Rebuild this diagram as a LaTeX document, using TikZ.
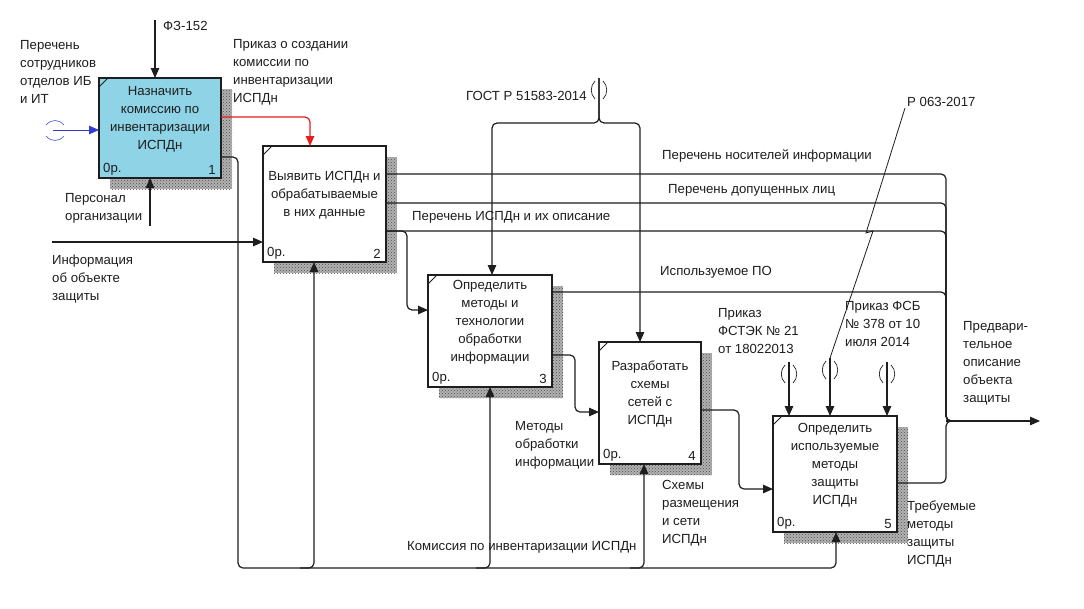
\documentclass[tikz,border=0pt]{standalone}
\usepackage{fontspec}
\setmainfont{Liberation Sans}
\usetikzlibrary{arrows.meta,patterns}

\definecolor{actblue}{RGB}{142,212,230}
\definecolor{ink}{RGB}{30,30,30}
\definecolor{inblue}{RGB}{50,60,210}
\definecolor{ctlred}{RGB}{228,30,30}

% IDEF0 activity box: name, x1, y1, x2, y2, fill, caption, number
\newcommand\actbox[8]{%
  \fill[black!30] (#2+11,#3+11) rectangle (#4+11,#5+11);
  \fill[pattern=crosshatch dots, pattern color=black!70] (#2+11,#3+11) rectangle (#4+11,#5+11);
  \node[actframe, fill=#6, minimum width={#4-#2}, minimum height={#5-#3}, anchor=north west] (#1) at (#2,#3) {};
  \draw[line width=0.9pt, ink] (#2,#3+9) -- (#2+9,#3);
  \node[lbl, align=center] (#1cap) at ({(#2+#4)/2},{(#3+#5)/2-9}) {#7};
  \node[lbl, anchor=south west] (#1cost) at (#2+4,#5-3) {0р.};
  \node[lbl, anchor=south east] (#1num) at (#4-5,#5-3) {#8};
}

% tunnel brackets around a vertical arrow at x, centred at y
\newcommand\vtunnel[2]{%
  \draw[line width=0.7pt, ink] (#1-4,#2-9) .. controls (#1-9,#2-4) and (#1-9,#2+4) .. (#1-4,#2+9);
  \draw[line width=0.7pt, ink] (#1+4,#2-9) .. controls (#1+9,#2-4) and (#1+9,#2+4) .. (#1+4,#2+9);
}

\begin{document}
\begin{tikzpicture}[x=1pt,y=-1pt,
  lbl/.style={font=\fontsize{13.2}{18}\selectfont, text=ink, inner sep=0pt},
  txt/.style={lbl, align=left, anchor=north west},
  actframe/.style={draw=ink, line width=1.8pt, outer sep=0pt, inner sep=0pt},
  conn/.style={draw=ink, line width=1.2pt, rounded corners=5pt},
  arr/.style={conn, -{Triangle[length=10pt,width=8.5pt]}},
]
\useasboundingbox[fill=white] (0,0) rectangle (1084,608);

% activities
\actbox{b1}{99}{78}{221}{178}{actblue}{Назначить\\комиссию по\\инвентаризации\\ИСПДн}{1}
\actbox{b2}{263}{146}{386}{262}{white}{Выявить ИСПДн и\\обрабатываемые\\в них данные}{2}
\actbox{b3}{428}{275}{552}{387}{white}{Определить\\методы и\\технологии\\обработки\\информации}{3}
\actbox{b4}{599}{342}{701}{464}{white}{Разработать\\схемы\\сетей с\\ИСПДн}{4}
\actbox{b5}{773}{416}{897}{532}{white}{Определить\\используемые\\методы\\защиты\\ИСПДн}{5}

% free arrow ends
\coordinate (fz) at (155,20);
\coordinate (staff) at (53,130);
\coordinate (pers) at (150,226);
\coordinate (info) at (52,242);
\coordinate (gost) at (599,78);
\coordinate (fork) at (599,123);
\coordinate (join) at (946,421);
\coordinate (result) at (1040,421);
\coordinate (ctlA) at (789,362);
\coordinate (ctlB) at (830,358);
\coordinate (ctlC) at (887,362);
\coordinate (rtag) at (905,108);

% box 1
\draw[arr] (fz) -- (fz |- b1.north);
\draw[arr] (pers) -- (pers |- b1.south);
\draw[arr, draw=inblue, line width=1pt] (staff) -- (staff -| b1.west);
\draw[inblue!80, line width=0.7pt] (46,125) .. controls (51,119) and (59,119) .. (64,125);
\draw[inblue!80, line width=0.7pt] (46,136) .. controls (51,142) and (59,142) .. (64,136);
\draw[arr, draw=ctlred] (b1.east |- 0,117) -- (310,117) -- (310,0 |- b2.north);

% mechanism bus: commission
\draw[arr] (b1.east |- 0,157) -- (238,157) -- (238,568) -- (836,568) -- (836,0 |- b5.south);
\draw[arr] (300,568) -- (314,568) -- (314,0 |- b2.south);
\draw[arr] (476,568) -- (490,568) -- (490,0 |- b3.south);
\draw[arr] (630,568) -- (644,568) -- (644,0 |- b4.south);

% box 2
\draw[arr] (info) -- (info -| b2.west);
\draw[conn] (b2.east |- 0,174) -- (946,174) -- (join) -- (960,421);
\draw[conn] (b2.east |- 0,203) -- (946,203) -- (join) -- (960,421);
\draw[conn] (b2.east |- 0,231) -- (946,231) -- (join) -- (960,421);
\draw[arr] (b2.east |- 0,231) -- (407,231) -- (407,310) -- (b3.west |- 0,310);

% GOST control, split to boxes 3 and 4
\draw[arr] (gost) -- (fork) -- (492,123) -- (492,0 |- b3.north);
\draw[arr] (gost) -- (fork) -- (640,123) -- (640,0 |- b4.north);
\vtunnel{599}{90}

% box 3
\draw[conn] (b3.east |- 0,292) -- (946,292) -- (join) -- (960,421);
\draw[arr] (b3.east |- 0,355) -- (575,355) -- (575,412) -- (b4.west |- 0,412);

% box 4
\draw[arr] (b4.east |- 0,410) -- (739,410) -- (739,489) -- (b5.west |- 0,489);

% box 5
\draw[conn] (b5.east |- 0,483) -- (946,483) -- (join) -- (960,421);
\draw[arr, rounded corners=0pt] (join) -- (result);
\draw[arr] (ctlA) -- (ctlA |- b5.north);
\draw[arr] (ctlB) -- (ctlB |- b5.north);
\draw[arr] (ctlC) -- (ctlC |- b5.north);
\vtunnel{789}{374}
\vtunnel{830}{370}
\vtunnel{887}{374}
\draw[line width=0.8pt, ink] (rtag) -- (866,233) -- (873,231) -- (ctlB);

% labels
\node[txt] at (163,21) {ФЗ-152};
\node[txt] at (20,40) {Перечень\\сотрудников\\отделов ИБ\\и ИТ};
\node[txt] at (233,39) {Приказ о создании\\комиссии по\\инвентаризации\\ИСПДн};
\node[txt] at (65,193) {Персонал\\организации};
\node[txt] at (52,255) {Информация\\об объекте\\защиты};
\node[txt] at (466,91) {ГОСТ Р 51583-2014};
\node[txt] at (662,150) {Перечень носителей информации};
\node[txt] at (668,184) {Перечень допущенных лиц};
\node[txt] at (412,211) {Перечень ИСПДн и их описание};
\node[txt] at (660,266) {Используемое ПО};
\node[txt] at (907,97) {Р 063-2017};
\node[txt] at (718,308) {Приказ\\ФСТЭК № 21\\от 18022013};
\node[txt] at (845,301) {Приказ ФСБ\\№ 378 от 10\\июля 2014};
\node[txt] at (963,321) {Предвари-\\тельное\\описание\\объекта\\защиты};
\node[txt] at (515,421) {Методы\\обработки\\информации};
\node[txt] at (662,480) {Схемы\\размещения\\и сети\\ИСПДн};
\node[txt] at (407,541) {Комиссия по инвентаризации ИСПДн};
\node[txt] at (907,501) {Требуемые\\методы\\защиты\\ИСПДн};
\end{tikzpicture}
\end{document}
